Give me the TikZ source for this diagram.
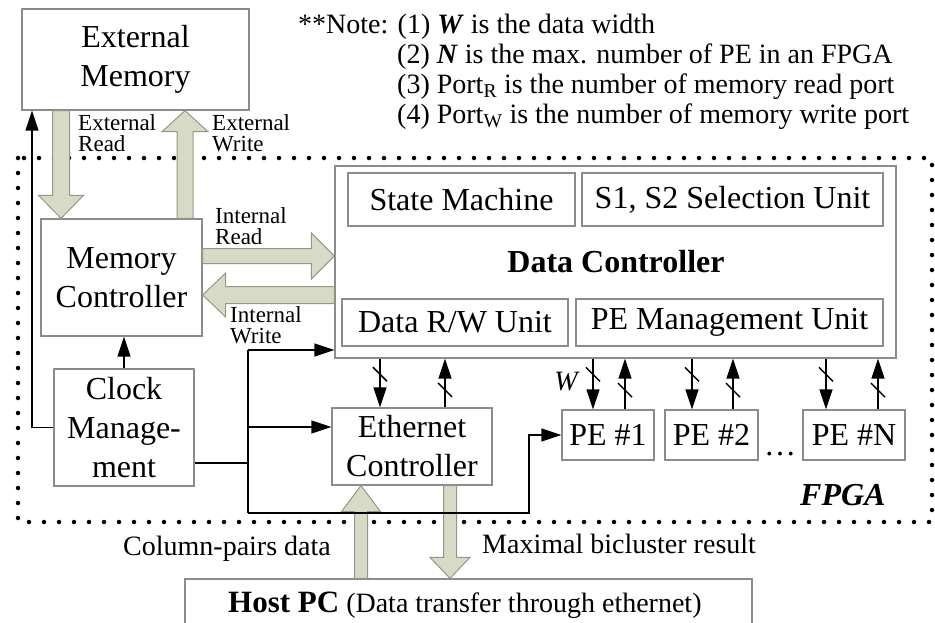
\documentclass[tikz,border=0pt]{standalone}
\usepackage{fontspec}
\setmainfont{Liberation Serif}
\usetikzlibrary{arrows.meta,calc}

\definecolor{boxline}{RGB}{140,140,140}
\definecolor{fatfill}{RGB}{214,218,198}
\definecolor{fatline}{RGB}{150,152,135}

\newcommand\boxfont{\fontsize{32}{39}\selectfont}
\newcommand\labelfont{\fontsize{28}{30}\selectfont}
\newcommand\tagfont{\fontsize{23}{21}\selectfont}

% vertical block arrow from #1 to #2; #3 half shaft, #4 half head, #5 head length
\newcommand\fatv[5]{%
  \path[fatarrow] let \p1=(#1), \p2=(#2), \n1={sign(\y2-\y1)} in
    ({\x1-#3pt},{\y1}) -- ({\x1-#3pt},{\y2-(\n1)*#5}) -- ({\x1-#4pt},{\y2-(\n1)*#5})
    -- ({\x1},{\y2}) -- ({\x1+#4pt},{\y2-(\n1)*#5}) -- ({\x1+#3pt},{\y2-(\n1)*#5})
    -- ({\x1+#3pt},{\y1}) -- cycle;}
% horizontal block arrow from #1 to #2
\newcommand\fath[5]{%
  \path[fatarrow] let \p1=(#1), \p2=(#2), \n1={sign(\x2-\x1)} in
    ({\x1},{\y1+#3pt}) -- ({\x2-(\n1)*#5},{\y1+#3pt}) -- ({\x2-(\n1)*#5},{\y1+#4pt})
    -- ({\x2},{\y1}) -- ({\x2-(\n1)*#5},{\y1-#4pt}) -- ({\x2-(\n1)*#5},{\y1-#3pt})
    -- ({\x1},{\y1-#3pt}) -- cycle;}
% W-bit bus: arrow from #1 to #2 with a width slash at fraction #3
\newcommand\bus[3]{%
  \draw[conn] (#1) -- coordinate[pos=#3] (bs) (#2);
  \draw[wire] ([shift={(-7pt,7pt)}]bs) -- ([shift={(7pt,-7pt)}]bs);}

\begin{document}
\begin{tikzpicture}[x=1pt,y=-1pt,
  box/.style={draw=boxline, line width=1.3pt, inner sep=0pt, align=center,
              font=\boxfont, text=black},
  fatarrow/.style={fill=fatfill, draw=fatline, line width=1pt, line join=miter},
  wire/.style={line width=1.5pt, black, line join=miter},
  conn/.style={wire, -{Triangle[length=20pt,width=13pt]}},
  tag/.style={font=\tagfont, align=left, inner sep=0pt, anchor=north west},
  note/.style={font=\labelfont, inner sep=0pt, anchor=base west}]

\useasboundingbox (0,0) rectangle (935,622);
\clip (0,0) rectangle (935,622);
\fill[white] (0,0) rectangle (935,622);

% FPGA boundary
\draw[line width=4.5pt, dash pattern=on 0pt off 15pt, line cap=round]
  (18,158) rectangle (932,522);

% blocks
\node[box, minimum width=227, minimum height=101] (extmem) at (135.5,59.5) {External\\Memory};
\node[box, minimum width=161, minimum height=117] (memctl) at (121.5,277.5) {Memory\\Controller};
\node[box, minimum width=140, minimum height=117] (clock) at (124,427.5) {Clock\\Manage-\\ment};
\node[box, minimum width=561, minimum height=192] (dc) at (615.5,262) {};
\node[box, minimum width=227, minimum height=53] (sm) at (461.5,199.5) {State Machine};
\node[box, minimum width=301, minimum height=53] (sel) at (732.5,199.5) {S1, S2 Selection Unit};
\node[box, minimum width=226, minimum height=47] (rw) at (455,322.5) {Data R/W Unit};
\node[box, minimum width=307, minimum height=47] (pem) at (729.5,322.5) {PE Management Unit};
\node[font=\boxfont\bfseries, anchor=base, inner sep=0pt] (dclbl) at (616,272) {Data Controller};
\node[box, minimum width=160, minimum height=77] (eth) at (412,446.5) {Ethernet\\Controller};
\node[box, minimum width=92, minimum height=50] (pe1) at (608,435) {PE \#1};
\node[box, minimum width=93, minimum height=50] (pe2) at (711.5,435) {PE \#2};
\node[box, minimum width=102, minimum height=50] (peN) at (854,435) {PE \#N};
\node[font=\boxfont, anchor=base, inner sep=0pt] (pedots) at (780,455) {\ldots};
\node[font=\boxfont\bfseries\itshape, anchor=base west, inner sep=0pt] (fpgalbl) at (800,505) {FPGA};
\node[box, minimum width=567, minimum height=71] (host) at (468.5,614.5) {};
\node[note] (hosttxt) at (228,612) {{\fontsize{31}{33}\selectfont\bfseries Host PC} (Data transfer through ethernet)};

% notes
\node[note] (note1) at (298,33) {**Note: (1) \textbf{\textit{W}} is the data width};
\node[note] (note2) at (397,63) {(2) \textbf{\textit{N}} is the max. number of PE in an FPGA};
\node[note] (note3) at (397,93) {(3) Port\textsubscript{R} is the number of memory read port};
\node[note] (note4) at (397,123) {(4) Port\textsubscript{W} is the number of memory write port};

% block arrows
\fatv{61,0 |- extmem.south}{61,0 |- memctl.north}{8.5}{22.5}{23}
\fatv{185,0 |- memctl.north}{185,0 |- extmem.south}{8}{23}{21}
\fath{memctl.east |- 0,256}{dc.west |- 0,256}{7.5}{23}{23}
\fath{dc.west |- 0,295}{memctl.east |- 0,295}{8.5}{22}{23}
\fatv{361,0 |- host.north}{361,0 |- eth.south}{6.5}{19.5}{26}
\fatv{450,0 |- eth.south}{450,0 |- host.north}{6.5}{20}{21}

\node[tag] (lblER) at (78,114) {External\\Read};
\node[tag] (lblEW) at (212,114) {External\\Write};
\node[tag] (lblIR) at (215,207) {Internal\\Read};
\node[tag] (lblIW) at (230,306) {Internal\\Write};
\node[note] (lblcol) at (123,555) {Column-pairs data};
\node[note] (lblmax) at (482,553) {Maximal bicluster result};

% clock distribution
\coordinate (ckout) at (clock.east |- 0,463);
\coordinate (tt) at (248,350);
\coordinate (tm) at (248,427);
\coordinate (tb) at (248,513);
\draw[conn] (clock.west) -| (32,0 |- extmem.south);
\draw[conn] (clock.north) -- (clock.north |- memctl.south);
\draw[wire] (ckout) -- (ckout -| tt);
\draw[wire] (tt) -- (tb);
\draw[conn] (tt) -- (tt -| dc.west);
\draw[conn] (tm) -- (tm -| eth.west);
\draw[conn] (tb) -| (529,0 |- pe1.west) -- (pe1.west);

% W-bit data buses
\bus{380,0 |- dc.south}{380,0 |- eth.north}{0.32}
\bus{445,0 |- eth.north}{445,0 |- dc.south}{0.36}
\bus{593,0 |- dc.south}{593,0 |- pe1.north}{0.31}
\bus{625,0 |- pe1.north}{625,0 |- dc.south}{0.38}
\bus{692,0 |- dc.south}{692,0 |- pe2.north}{0.31}
\bus{733,0 |- pe2.north}{733,0 |- dc.south}{0.38}
\bus{826,0 |- dc.south}{826,0 |- peN.north}{0.31}
\bus{878,0 |- peN.north}{878,0 |- dc.south}{0.38}
\node[font=\labelfont\itshape, anchor=base, inner sep=0pt] (wlbl) at (566,390) {W};

\end{tikzpicture}
\end{document}
